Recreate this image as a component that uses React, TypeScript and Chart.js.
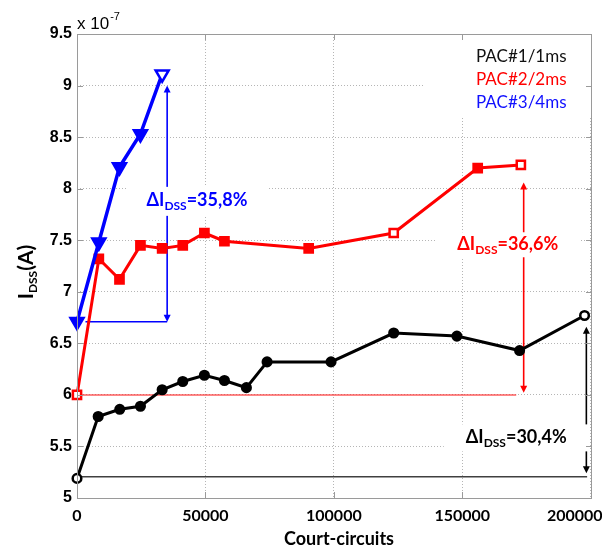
import React, { useEffect, useRef } from "react";
import { Chart, registerables } from "chart.js";

Chart.register(...registerables);

// ---- data (current in units of 1e-7 A) ----
const seriesNames = ["PAC#1/1ms", "PAC#2/2ms", "PAC#3/4ms"];
const pac1X = [0, 8250, 16650, 24700, 33150, 41170, 49600, 57400, 65950, 74000, 98900, 123300, 147900, 172300, 197600];
const pac1Y = [5.19, 5.79, 5.86, 5.89, 6.05, 6.13, 6.19, 6.14, 6.07, 6.32, 6.32, 6.6, 6.57, 6.43, 6.77];
const pac2X = [0, 8500, 16540, 24700, 33150, 41170, 49600, 57400, 90200, 123300, 156000, 172800];
const pac2Y = [6.0, 7.32, 7.12, 7.45, 7.42, 7.45, 7.57, 7.49, 7.42, 7.57, 8.2, 8.23];
const pac3X = [0, 8500, 16540, 24700, 33150];
const pac3Y = [6.71, 7.48, 8.21, 8.53, 9.11];
const xTicks = [0, 50000, 100000, 150000, 200000];
const yTicks = [5, 5.5, 6, 6.5, 7, 7.5, 8, 8.5, 9, 9.5];
const deltaLabels = ["30,4%", "36,6%", "35,8%"];
const xTitle = "Court-circuits";
const exponentLabel = "-7";

// hollow markers (indices)
const hollow1 = [0, 14];
const hollow2 = [0, 9, 11];
const hollow3 = [4];

// annotation geometry in data units
const annBlue = { ax: 35100, top: 9.0, bot: 6.71, lineFrom: 3300, lineY: 6.71, tx: 46700, ty: 7.877 };
const annRed = { ax: 173900, top: 8.06, bot: 6.02, lineFrom: 0, lineTo: 171000, lineY: 6.0, tx: 167700, ty: 7.456 };
const annBlack = { ax: 198300, top: 6.66, bot: 5.24, lineFrom: 0, lineTo: 198600, lineY: 5.207, tx: 171000, ty: 5.583 };

const CAL = "Lato, 'Open Sans', sans-serif";
const ARIAL = "'Liberation Sans', Arial, sans-serif";

function drawArrow(ctx: CanvasRenderingContext2D, x: number, y1: number, y2: number, color: string, lw: number) {
  const hl = 7, hw = 3.5;
  ctx.save();
  ctx.strokeStyle = color;
  ctx.fillStyle = color;
  ctx.lineWidth = lw;
  ctx.beginPath();
  ctx.moveTo(x, y1 + hl - 1);
  ctx.lineTo(x, y2 - hl + 1);
  ctx.stroke();
  ctx.beginPath();
  ctx.moveTo(x, y1);
  ctx.lineTo(x - hw, y1 + hl);
  ctx.lineTo(x + hw, y1 + hl);
  ctx.closePath();
  ctx.fill();
  ctx.beginPath();
  ctx.moveTo(x, y2);
  ctx.lineTo(x - hw, y2 - hl);
  ctx.lineTo(x + hw, y2 - hl);
  ctx.closePath();
  ctx.fill();
  ctx.restore();
}

function deltaWidth(ctx: CanvasRenderingContext2D, pct: string) {
  ctx.font = `bold 18px ${CAL}`;
  const a = ctx.measureText("\u0394I").width;
  const c = ctx.measureText("=" + pct).width;
  ctx.font = `bold 12px ${CAL}`;
  const b = ctx.measureText("DSS").width;
  return { a, b, c, total: a + b + c };
}

function drawDelta(ctx: CanvasRenderingContext2D, cx: number, cy: number, pct: string, color: string, padX: number, boxH: number) {
  const m = deltaWidth(ctx, pct);
  ctx.save();
  ctx.fillStyle = "#fff";
  ctx.fillRect(cx - m.total / 2 - padX, cy - boxH / 2, m.total + 2 * padX, boxH);
  ctx.fillStyle = color;
  ctx.textBaseline = "alphabetic";
  ctx.textAlign = "left";
  let x = cx - m.total / 2;
  const base = cy + 5;
  ctx.font = `bold 18px ${CAL}`;
  ctx.fillText("\u0394I", x, base);
  x += m.a;
  ctx.font = `bold 12px ${CAL}`;
  ctx.fillText("DSS", x, base + 4);
  x += m.b;
  ctx.font = `bold 18px ${CAL}`;
  ctx.fillText("=" + pct, x, base);
  ctx.restore();
}

const annotPlugin = {
  id: "annot",
  beforeDatasetsDraw(chart: any) {
    const { ctx, chartArea: a, scales } = chart;
    const x = scales.x, y = scales.y;
    ctx.save();
    // horizontal reference lines
    ctx.lineWidth = 1.5;
    ctx.strokeStyle = "#0000ff";
    ctx.beginPath();
    ctx.moveTo(x.getPixelForValue(annBlue.lineFrom), y.getPixelForValue(annBlue.lineY));
    ctx.lineTo(x.getPixelForValue(annBlue.ax), y.getPixelForValue(annBlue.lineY));
    ctx.stroke();
    ctx.strokeStyle = "rgba(255,40,40,0.75)";
    ctx.beginPath();
    ctx.moveTo(x.getPixelForValue(annRed.lineFrom), y.getPixelForValue(annRed.lineY));
    ctx.lineTo(x.getPixelForValue(annRed.lineTo), y.getPixelForValue(annRed.lineY));
    ctx.stroke();
    ctx.strokeStyle = "#404040";
    ctx.beginPath();
    ctx.moveTo(x.getPixelForValue(annBlack.lineFrom), y.getPixelForValue(annBlack.lineY));
    ctx.lineTo(x.getPixelForValue(annBlack.lineTo), y.getPixelForValue(annBlack.lineY));
    ctx.stroke();
    ctx.restore();

    drawArrow(ctx, x.getPixelForValue(annBlue.ax), y.getPixelForValue(annBlue.top), y.getPixelForValue(annBlue.bot), "#0000ff", 1.6);
    drawArrow(ctx, x.getPixelForValue(annRed.ax), y.getPixelForValue(annRed.top), y.getPixelForValue(annRed.bot), "#ff0000", 1.6);
    drawArrow(ctx, x.getPixelForValue(annBlack.ax), y.getPixelForValue(annBlack.top), y.getPixelForValue(annBlack.bot), "#000000", 1.6);

    // legend box (white background) and legend text
    ctx.save();
    ctx.fillStyle = "#fff";
    ctx.fillRect(a.right - 169, a.top + 1, 168, 82);
    ctx.font = `17px ${CAL}`;
    ctx.textAlign = "left";
    ctx.textBaseline = "alphabetic";
    const colors = ["#111111", "#ff0000", "#1010ff"];
    seriesNames.forEach((n, i) => {
      ctx.fillStyle = colors[i];
      ctx.fillText(n, a.right - 116, a.top + 28 + i * 23);
    });
    ctx.restore();

    // delta texts
    drawDelta(ctx, x.getPixelForValue(annBlue.tx), y.getPixelForValue(annBlue.ty), deltaLabels[2], "#0000ff", 20, 29);
    drawDelta(ctx, x.getPixelForValue(annRed.tx), y.getPixelForValue(annRed.ty), deltaLabels[1], "#ff0000", 21, 25);
    drawDelta(ctx, x.getPixelForValue(annBlack.tx), y.getPixelForValue(annBlack.ty), deltaLabels[0], "#000000", 22, 27);
  },
  afterDraw(chart: any) {
    const { ctx, chartArea: a, scales } = chart;
    const x = scales.x, y = scales.y;
    ctx.save();
    // frame
    ctx.strokeStyle = "#9a9a9a";
    ctx.lineWidth = 1;
    ctx.strokeRect(Math.round(a.left) + 0.5, Math.round(a.top) + 0.5, Math.round(a.right - a.left) - 1, Math.round(a.bottom - a.top));
    // tick marks inward
    ctx.beginPath();
    xTicks.forEach((v) => {
      const px = Math.round(x.getPixelForValue(v)) + 0.5;
      ctx.moveTo(px, a.bottom);
      ctx.lineTo(px, a.bottom - 6);
      ctx.moveTo(px, a.top);
      ctx.lineTo(px, a.top + 6);
    });
    yTicks.forEach((v) => {
      const py = Math.round(y.getPixelForValue(v)) + 0.5;
      ctx.moveTo(a.left, py);
      ctx.lineTo(a.left + 6, py);
      ctx.moveTo(a.right, py);
      ctx.lineTo(a.right - 6, py);
    });
    ctx.stroke();

    // x tick labels
    ctx.fillStyle = "#000";
    ctx.font = `bold 16px ${CAL}`;
    ctx.textAlign = "center";
    ctx.textBaseline = "alphabetic";
    xTicks.forEach((v, i) => {
      let px = x.getPixelForValue(v);
      if (i === xTicks.length - 1) px -= 16;
      ctx.fillText(String(v), px, a.bottom + 23);
    });

    // x title
    ctx.font = `bold 18px ${CAL}`;
    ctx.fillText(xTitle, 339, a.bottom + 47);

    // exponent label
    ctx.textAlign = "left";
    ctx.font = `17px ${ARIAL}`;
    ctx.fillText("x 10", a.left, a.top - 5);
    const w = ctx.measureText("x 10").width;
    ctx.font = `11px ${ARIAL}`;
    ctx.fillText(exponentLabel, a.left + w + 1, a.top - 14);

    // y title (rotated)
    ctx.translate(33, 272);
    ctx.rotate(-Math.PI / 2);
    ctx.font = `bold 21px ${CAL}`;
    const w1 = ctx.measureText("I").width;
    const w3 = ctx.measureText("(A)").width;
    ctx.font = `bold 12px ${CAL}`;
    const w2 = ctx.measureText("DSS").width;
    let sx = -(w1 + w2 + w3) / 2;
    ctx.font = `bold 21px ${CAL}`;
    ctx.fillText("I", sx, 0);
    sx += w1;
    ctx.font = `bold 12px ${CAL}`;
    ctx.fillText("DSS", sx, 4);
    sx += w2;
    ctx.font = `bold 21px ${CAL}`;
    ctx.fillText("(A)", sx, 0);
    ctx.restore();
  },
};

function pts(xs: number[], ys: number[]) {
  return xs.map((v, i) => ({ x: v, y: ys[i] }));
}

export default function App() {
  const ref = useRef<HTMLCanvasElement | null>(null);
  useEffect(() => {
    if (!ref.current) return;
    const chart = new Chart(ref.current, {
      type: "line",
      data: {
        datasets: [
          {
            label: seriesNames[2],
            data: pts(pac3X, pac3Y),
            borderColor: "#0000ff",
            borderWidth: 3.5,
            pointStyle: "triangle",
            rotation: 180,
            pointRadius: 7.5,
            pointBorderWidth: 2.5,
            pointBorderColor: "#0000ff",
            pointBackgroundColor: pac3Y.map((_, i) => (hollow3.includes(i) ? "#ffffff" : "#0000ff")),
            clip: false,
          } as any,
          {
            label: seriesNames[1],
            data: pts(pac2X, pac2Y),
            borderColor: "#ff0000",
            borderWidth: 3,
            pointStyle: "rect",
            pointRadius: 5.8,
            pointBorderWidth: 2.5,
            pointBorderColor: "#ff0000",
            pointBackgroundColor: pac2Y.map((_, i) => (hollow2.includes(i) ? "#ffffff" : "#ff0000")),
            clip: false,
          },
          {
            label: seriesNames[0],
            data: pts(pac1X, pac1Y),
            borderColor: "#000000",
            borderWidth: 3,
            pointStyle: "circle",
            pointRadius: 4.3,
            pointBorderWidth: 2.5,
            pointBorderColor: "#000000",
            pointBackgroundColor: pac1Y.map((_, i) => (hollow1.includes(i) ? "#ffffff" : "#000000")),
            clip: false,
          },
        ],
      },
      options: {
        animation: false,
        responsive: false,
        devicePixelRatio: 1,
        layout: { padding: { left: 0, top: 34, right: 10, bottom: 50 } },
        plugins: { legend: { display: false }, tooltip: { enabled: false } },
        scales: {
          x: {
            type: "linear",
            min: 0,
            max: 200500,
            afterBuildTicks: (s: any) => {
              s.ticks = xTicks.map((v) => ({ value: v }));
            },
            ticks: { display: false },
            grid: { color: "#b5b5b5", lineWidth: 1, drawTicks: false },
            border: { display: false, dash: [1, 2] },
          },
          y: {
            type: "linear",
            min: 5,
            max: 9.5,
            afterBuildTicks: (s: any) => {
              s.ticks = yTicks.map((v) => ({ value: v }));
            },
            afterFit: (s: any) => {
              s.width = 77;
            },
            ticks: {
              padding: 5,
              color: "#000",
              font: { family: ARIAL, size: 16, weight: "bold" },
              callback: (v: any) => String(v),
            },
            grid: { color: "#b5b5b5", lineWidth: 1, drawTicks: false },
            border: { display: false, dash: [1, 2] },
          },
        },
      },
      plugins: [annotPlugin],
    } as any);
    return () => chart.destroy();
  }, []);
  return (
    <div style={{ position: "absolute", left: 0, top: 0, width: 602, height: 548, overflow: "hidden", background: "#fff" }}>
      <canvas ref={ref} width={602} height={548} style={{ width: 602, height: 548, display: "block" }} />
    </div>
  );
}
